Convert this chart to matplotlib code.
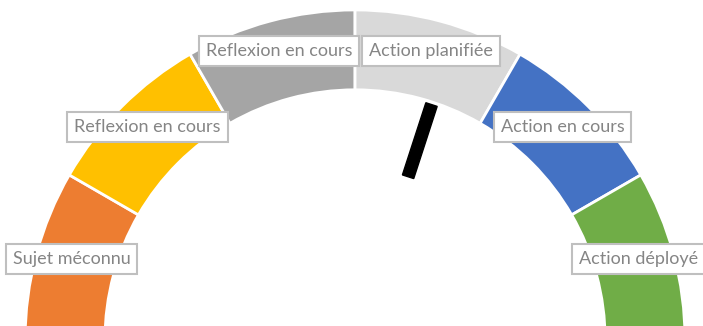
import numpy as np
import matplotlib.pyplot as plt

# Segments de la jauge (de gauche à droite)
labels = ['Sujet méconnu', 'Reflexion en cours', 'Reflexion en cours',
          'Action planifiée', 'Action en cours', 'Action déployé']
sizes = [1, 1, 1, 1, 1, 1]
colors = ['#ED7D31', '#FFC000', '#A5A5A5', '#D9D9D9', '#4472C4', '#70AD47']
needle_value = 60  # sur 100

fig = plt.figure(figsize=(7.03, 3.26), dpi=100)
ax = fig.add_axes([0, 0, 1, 1])

# demi-donut : la moitié basse est invisible
vals = sizes + [sum(sizes)]
wedges, _ = ax.pie(vals, colors=colors + ['none'], startangle=180, counterclock=False,
                   radius=1.0, wedgeprops=dict(width=0.242, edgecolor='white', linewidth=2))
wedges[-1].set_edgecolor('none')

# étiquettes au milieu de chaque segment
total = sum(sizes)
cum = np.cumsum([0] + sizes)
for i, lab in enumerate(labels):
    mid = 180 - (cum[i] + sizes[i] / 2) / total * 180
    r = 0.89
    ax.text(r * np.cos(np.radians(mid)), r * np.sin(np.radians(mid)) + 0.015, lab,
            ha='center', va='center', fontsize=13, color='#858585',
            family='Lato',
            bbox=dict(boxstyle='square,pad=0.38', fc='white', ec='#BFBFBF', lw=1.5))

# aiguille
ang = np.radians(180 - needle_value / 100 * 180)
r0, r1, hw = 0.52, 0.75, 0.018
d = np.array([np.cos(ang), np.sin(ang)])
p = np.array([-np.sin(ang), np.cos(ang)])
pts = [r0 * d + hw * p, r1 * d + hw * p, r1 * d - hw * p, r0 * d - hw * p]
ax.add_patch(plt.Polygon(pts, closed=True, color='black'))

ax.set_aspect('equal')
ax.set_xlim(-1.076, 1.0545)
ax.set_ylim(0.0424, 1.030)
ax.axis('off')

plt.savefig('out.png', dpi=100)
